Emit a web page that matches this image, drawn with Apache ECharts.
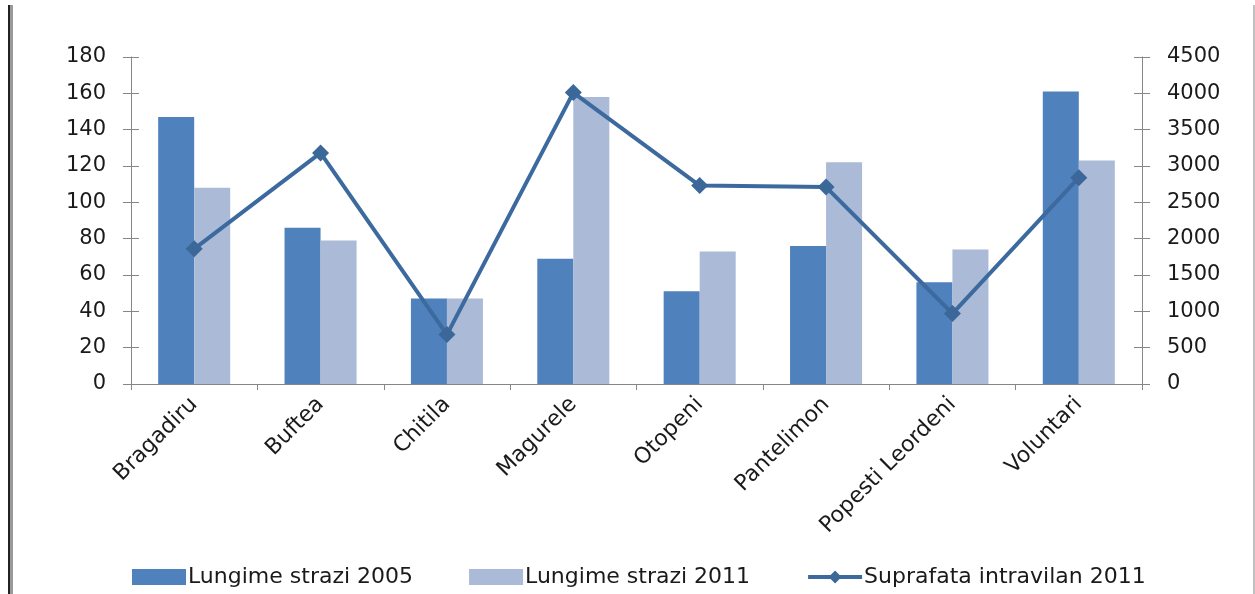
<!DOCTYPE html>
<html>
<head>
<meta charset="utf-8">
<script src="https://cdn.jsdelivr.net/npm/echarts@6/dist/echarts.min.js"></script>
<style>
  html, body { margin: 0; padding: 0; background: #ffffff; }
  #chart { width: 1255px; height: 594px; }
</style>
</head>
<body>
<div id="chart"></div>
<script>
// Localities around Bucharest
const categories = ['Bragadiru', 'Buftea', 'Chitila', 'Magurele', 'Otopeni', 'Pantelimon', 'Popesti Leordeni', 'Voluntari'];

// Street length (km), 2005 and 2011
const strazi2005 = [147, 86, 47, 69, 51, 76, 56, 161];
const strazi2011 = [108, 79, 47, 158, 73, 122, 74, 123];

// Built-up area (ha), 2011
const intravilan2011 = [1860, 3180, 680, 4010, 2730, 2710, 970, 2840];

const seriesNames = ['Lungime strazi 2005', 'Lungime strazi 2011', 'Suprafata intravilan 2011'];

const FONT = 'DejaVu Sans';
const AXIS_GRAY = '#868686';
const TEXT = '#1a1a1a';
const LINE_COLOR = '#3c6a9e';

const chart = echarts.init(document.getElementById('chart'), null, { renderer: 'canvas' });

function valueAxis(min, max, interval, position, withLabels, tickInside) {
  return {
    type: 'value',
    position: position,
    min: min,
    max: max,
    interval: interval,
    splitLine: { show: false },
    axisLine: { show: withLabels, lineStyle: { color: AXIS_GRAY, width: 1 } },
    axisTick: { show: true, inside: tickInside, length: 8, lineStyle: { color: AXIS_GRAY, width: 1 } },
    axisLabel: {
      show: withLabels,
      margin: 25,
      color: TEXT,
      fontFamily: FONT,
      fontSize: 21,
      formatter: function (v) { return String(v); }
    }
  };
}

chart.setOption({
  animation: false,
  backgroundColor: '#ffffff',
  grid: { left: 131, right: 113, top: 57, bottom: 210 },
  legend: {
    left: 127,
    top: 561,
    itemWidth: 54,
    itemHeight: 16,
    itemGap: 56,
    textStyle: { color: TEXT, fontFamily: FONT, fontSize: 22, padding: [0, 0, 0, -3] },
    data: [
      { name: seriesNames[0], icon: 'rect' },
      { name: seriesNames[1], icon: 'rect' },
      {
        name: seriesNames[2],
        lineStyle: { color: LINE_COLOR, width: 4 },
        itemStyle: { color: '#3b6799' }
      }
    ]
  },
  xAxis: {
    type: 'category',
    data: categories,
    boundaryGap: true,
    axisLine: { lineStyle: { color: AXIS_GRAY, width: 1 } },
    axisTick: { show: true, alignWithLabel: false, length: 6, lineStyle: { color: AXIS_GRAY } },
    axisLabel: {
      rotate: 45,
      interval: 0,
      margin: 17,
      color: TEXT,
      fontFamily: FONT,
      fontSize: 22
    }
  },
  yAxis: [
    valueAxis(0, 180, 20, 'left', true, false),
    valueAxis(0, 4500, 500, 'right', true, false),
    valueAxis(0, 180, 20, 'left', false, true),
    valueAxis(0, 4500, 500, 'right', false, true)
  ],
  series: [
    {
      name: seriesNames[0],
      type: 'bar',
      yAxisIndex: 0,
      data: strazi2005,
      barGap: '0%',
      barCategoryGap: '43%',
      itemStyle: { color: '#4f81bd' }
    },
    {
      name: seriesNames[1],
      type: 'bar',
      yAxisIndex: 0,
      data: strazi2011,
      barGap: '0%',
      barCategoryGap: '43%',
      itemStyle: { color: '#aabad7' }
    },
    {
      name: seriesNames[2],
      type: 'line',
      yAxisIndex: 1,
      data: intravilan2011,
      symbol: 'diamond',
      symbolSize: 17,
      lineStyle: { color: LINE_COLOR, width: 4 },
      itemStyle: { color: '#3b6799' },
      z: 5
    }
  ],
  graphic: [
    { type: 'rect', shape: { x: 8, y: 5, width: 2, height: 589 }, style: { fill: '#222222' }, silent: true },
    { type: 'rect', shape: { x: 10, y: 5, width: 3, height: 589 }, style: { fill: '#9a9a9a' }, silent: true },
    { type: 'rect', shape: { x: 1253, y: 5, width: 2, height: 589 }, style: { fill: '#c0c0c0' }, silent: true }
  ]
});
</script>
</body>
</html>
